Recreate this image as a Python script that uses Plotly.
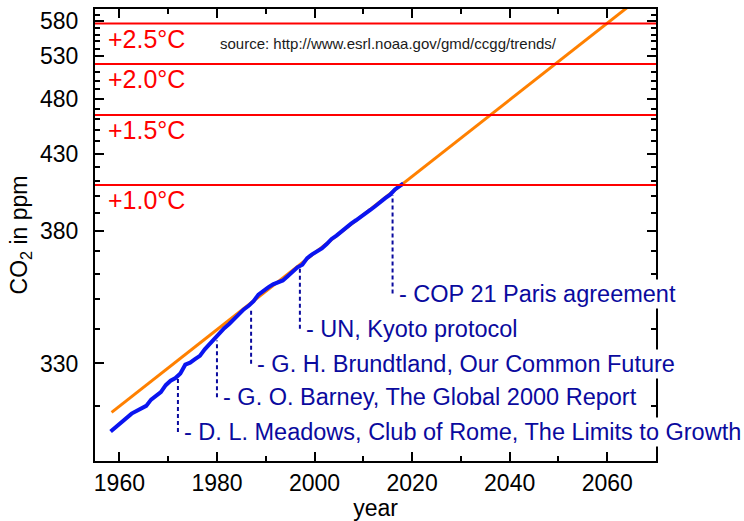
import math
import plotly.graph_objects as go

# ---------------- data ----------------
BASE = 280  # axis is logarithmic in (CO2 - 280 ppm)

co2_years = [1958.2, 1959.5, 1960.5, 1961.5, 1962.5, 1963.5, 1964.5, 1965.5, 1966.5, 1967.5,
             1968.5, 1969.5, 1970.5, 1971.5, 1972.5, 1973.5, 1974.5, 1975.5, 1976.5, 1977.5,
             1978.5, 1979.5, 1980.5, 1981.5, 1982.5, 1983.5, 1984.5, 1985.5, 1986.5, 1987.5,
             1988.5, 1989.5, 1990.5, 1991.5, 1992.5, 1993.5, 1994.5, 1995.5, 1996.5, 1997.5,
             1998.5, 1999.5, 2000.5, 2001.5, 2002.5, 2003.5, 2004.5, 2005.5, 2006.5, 2007.5,
             2008.5, 2009.5, 2010.5, 2011.5, 2012.5, 2013.5, 2014.5, 2015.5, 2016.5, 2017.5,
             2018.2]
co2_ppm = [315.0, 315.98, 316.91, 317.64, 318.45, 318.99, 319.62, 320.04, 321.37, 322.18,
           323.05, 324.62, 325.68, 326.32, 327.46, 329.68, 330.19, 331.12, 332.03, 333.84,
           335.41, 336.84, 338.76, 340.12, 341.48, 343.15, 344.87, 346.35, 347.61, 349.31,
           351.69, 353.20, 354.45, 355.70, 356.54, 357.21, 358.96, 360.97, 362.74, 363.88,
           366.84, 368.54, 369.71, 371.32, 373.45, 375.98, 377.70, 379.98, 382.09, 384.02,
           385.83, 387.64, 390.10, 391.85, 394.06, 396.74, 398.81, 401.01, 404.41, 406.76,
           408.3]

trend_years = [1958.4, 2070]
trend_ppm = [318.7, 643.0]

warming_labels = ["+1.0°C", "+1.5°C", "+2.0°C", "+2.5°C"]
warming_ppm = [407.3, 463.8, 520.0, 576.5]

event_years = [1972, 1980, 1987, 1997, 2016]
event_curve_ppm = [326.5, 336.4, 346.6, 362.9, 400.8]
event_label_ppm = [314.9, 321.9, 329.9, 340.0, 352.1]
event_labels = ["D. L. Meadows, Club of Rome, The Limits to Growth",
                "G. O. Barney, The Global 2000 Report",
                "G. H. Brundtland, Our Common Future",
                "UN, Kyoto protocol",
                "COP 21 Paris agreement"]

y_major_ppm = [330, 380, 430, 480, 530, 580]
y_minor_ppm = [v for v in range(310, 601, 10) if v not in y_major_ppm]
x_ticks = [1960, 1980, 2000, 2020, 2040, 2060]
x_minor = [1970, 1990, 2010, 2030, 2050, 2070]

source_text = "source: http://www.esrl.noaa.gov/gmd/ccgg/trends/"

# ---------------- figure ----------------
FONT = "Arial, Liberation Sans, sans-serif"
DARKBLUE = "#0a0a9e"


def ex(v):
    return v - BASE


fig = go.Figure()

fig.add_trace(go.Scatter(x=trend_years, y=[ex(v) for v in trend_ppm], mode="lines",
                         line=dict(color="#ff8000", width=3), showlegend=False,
                         hoverinfo="skip"))
fig.add_trace(go.Scatter(x=co2_years, y=[ex(v) for v in co2_ppm], mode="lines",
                         line=dict(color="#0a14f0", width=4), showlegend=False))

shapes = []
annotations = []
for lab, v in zip(warming_labels, warming_ppm):
    shapes.append(dict(type="line", xref="paper", x0=0, x1=1, yref="y",
                       y0=ex(v), y1=ex(v), line=dict(color="#ff0000", width=2)))
    annotations.append(dict(xref="paper", x=0.02, xanchor="left", yref="y",
                            y=math.log10(ex(v)), yanchor="top", yshift=1,
                            text=lab, showarrow=False,
                            font=dict(family=FONT, size=25, color="#ff0000")))

for yr, top, bot, lab in zip(event_years, event_curve_ppm, event_label_ppm, event_labels):
    shapes.append(dict(type="line", xref="x", yref="y", x0=yr, x1=yr,
                       y0=ex(bot), y1=ex(top),
                       line=dict(color=DARKBLUE, width=2, dash="4px,3px")))
    annotations.append(dict(xref="x", x=yr, xanchor="left", xshift=4, yref="y",
                            y=math.log10(ex(bot)), yanchor="middle",
                            text="- " + lab, showarrow=False, bgcolor="white",
                            borderpad=1,
                            font=dict(family=FONT, size=23.5, color=DARKBLUE)))

annotations.append(dict(xref="paper", x=(218 - 95) / 561, xanchor="left",
                        yref="paper", y=1 - (44 - 9) / 452, yanchor="middle",
                        text=source_text, showarrow=False,
                        font=dict(family=FONT, size=15, color="#1a1a1a")))

axis_common = dict(showline=True, linecolor="black", linewidth=2, mirror="ticks",
                   ticks="inside", ticklen=9, tickwidth=1.5, tickcolor="black",
                   showgrid=False, zeroline=False, automargin=False,
                   tickfont=dict(family=FONT, size=23, color="black"))

fig.update_layout(
    width=744, height=521,
    margin=dict(l=95, r=88, t=9, b=60),
    paper_bgcolor="white", plot_bgcolor="white",
    showlegend=False,
    shapes=shapes, annotations=annotations,
    xaxis=dict(range=[1955, 2070], tickmode="array", tickvals=x_ticks,
               ticklabelstandoff=0,
               minor=dict(tickmode="array", tickvals=x_minor, ticks="inside",
                          ticklen=5, tickcolor="black", tickwidth=1.5),
               title=dict(text="year", font=dict(family=FONT, size=23, color="black"),
                          standoff=4),
               **axis_common),
    yaxis=dict(type="log", range=[math.log10(ex(310)), math.log10(ex(600))],
               tickmode="array", tickvals=[ex(v) for v in y_major_ppm],
               ticktext=[str(v) for v in y_major_ppm],
               ticklabelstandoff=10,
               minor=dict(tickmode="array", tickvals=[ex(v) for v in y_minor_ppm],
                          ticks="inside", ticklen=5, tickcolor="black", tickwidth=1.5),
               title=dict(text="CO<sub>2</sub> in ppm",
                          font=dict(family=FONT, size=23, color="black"), standoff=6),
               **axis_common),
)

fig.write_html("out.html", config={"displayModeBar": False},
               post_script="document.body.style.margin='0px';")
